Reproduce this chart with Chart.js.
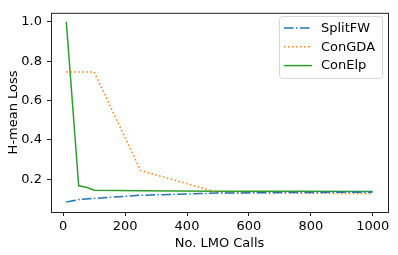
<!DOCTYPE html>
<html>
<head>
<meta charset="utf-8">
<script src="https://cdn.jsdelivr.net/npm/chart.js@4"></script>
<style>
    html, body { margin: 0; padding: 0; background: #fff; }
    #wrap { width: 398px; height: 255px; }
</style>
</head>
<body>
<div id="wrap"><canvas id="lossChart" width="398" height="255"></canvas></div>
<script>
// ========================================
// DATA
// ========================================
const callCounts = [10, 50, 75, 100, 250, 500, 750, 1000];
const splitFW = [0.085, 0.097, 0.100, 0.103, 0.119, 0.130, 0.133, 0.135];
const conGDA  = [0.745, 0.745, 0.745, 0.745, 0.245, 0.133, 0.130, 0.127];
const conElp  = [1.000, 0.167, 0.160, 0.145, 0.142, 0.140, 0.139, 0.138];

const xTicks = [0, 200, 400, 600, 800, 1000];
const yTicks = [0.2, 0.4, 0.6, 0.8, 1.0];

const FONT = { family: 'DejaVu Sans', size: 13 };

function toPoints(values) {
    return callCounts.map((c, i) => ({ x: c, y: values[i] }));
}

// ========================================
// PLUGINS - frame + inset legend
// ========================================
const framePlugin = {
    id: 'frame',
    afterDatasetsDraw(chart) {
        const { ctx, chartArea: a } = chart;
        ctx.save();
        ctx.strokeStyle = '#222';
        ctx.lineWidth = 1;
        ctx.strokeRect(a.left + 0.5, a.top + 0.5, a.right - a.left, a.bottom - a.top);
        ctx.restore();
    }
};

const insetLegend = {
    id: 'insetLegend',
    afterDraw(chart) {
        const ctx = chart.ctx;
        const x0 = 279, y0 = 16, w = 103, h = 62, r = 3;
        ctx.save();
        ctx.beginPath();
        ctx.roundRect(x0 + 0.5, y0 + 0.5, w, h, r);
        ctx.fillStyle = 'rgba(255,255,255,0.8)';
        ctx.fill();
        ctx.strokeStyle = '#d6d6d6';
        ctx.lineWidth = 1;
        ctx.stroke();

        ctx.font = FONT.size + 'px ' + FONT.family;
        ctx.textBaseline = 'middle';
        ctx.fillStyle = '#000';
        chart.data.datasets.forEach((ds, i) => {
            const y = 28 + i * 18.8;
            ctx.beginPath();
            ctx.setLineDash(ds.borderDash || []);
            ctx.strokeStyle = ds.borderColor;
            ctx.lineWidth = ds.borderWidth;
            ctx.moveTo(284, y);
            ctx.lineTo(312, y);
            ctx.stroke();
            ctx.setLineDash([]);
            ctx.fillText(ds.label, 321, y + 0.5);
        });
        ctx.restore();
    }
};

// ========================================
// CHART
// ========================================
const lossChart = new Chart(document.getElementById('lossChart').getContext('2d'), {
    type: 'line',
    data: {
        datasets: [
            {
                label: 'SplitFW',
                data: toPoints(splitFW),
                borderColor: '#1f77b4',
                borderWidth: 1.5,
                borderDash: [9.6, 2.4, 1.5, 2.4]
            },
            {
                label: 'ConGDA',
                data: toPoints(conGDA),
                borderColor: '#ff7f0e',
                borderWidth: 1.5,
                borderDash: [1.5, 2.5]
            },
            {
                label: 'ConElp',
                data: toPoints(conElp),
                borderColor: '#2ca02c',
                borderWidth: 1.5
            }
        ]
    },
    options: {
        responsive: false,
        animation: false,
        devicePixelRatio: 1,
        layout: { padding: { left: 0, right: 10, top: 9, bottom: 0 } },
        elements: { point: { radius: 0 }, line: { tension: 0, fill: false } },
        plugins: { legend: { display: false }, tooltip: { enabled: false } },
        scales: {
            x: {
                type: 'linear',
                min: -39.5,
                max: 1049.5,
                afterBuildTicks: s => { s.ticks = xTicks.map(v => ({ value: v })); },
                afterFit: s => { s.height = 43; },
                grid: { drawOnChartArea: false, tickLength: 4, color: '#222', tickColor: '#222' },
                border: { display: false },
                ticks: { color: '#000', font: FONT, padding: 3, maxRotation: 0,
                         callback: v => String(v) },
                title: { display: true, text: 'No. LMO Calls', color: '#000', font: FONT,
                         padding: { top: 0, bottom: 4 } }
            },
            y: {
                type: 'linear',
                min: 0.034,
                max: 1.046,
                afterBuildTicks: s => { s.ticks = yTicks.map(v => ({ value: v })); },
                afterFit: s => { s.width = 51; },
                grid: { drawOnChartArea: false, tickLength: 4, color: '#222', tickColor: '#222' },
                border: { display: false },
                ticks: { color: '#000', font: FONT, padding: 5,
                         callback: v => v.toFixed(1) },
                title: { display: true, text: 'H-mean Loss', color: '#000', font: FONT,
                         padding: { top: 6, bottom: 0 } }
            }
        }
    },
    plugins: [framePlugin, insetLegend]
});
</script>
</body>
</html>
